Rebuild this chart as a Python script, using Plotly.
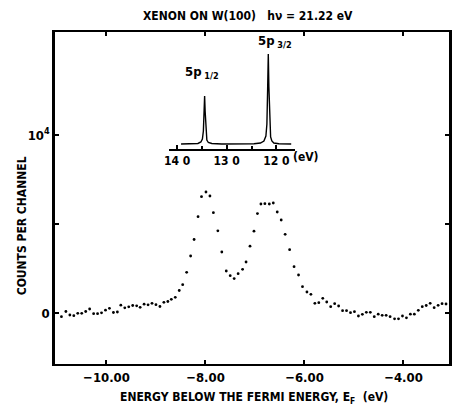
import plotly.graph_objects as go

# Main spectrum: energy below E_F (eV) and counts per channel
energy = [-10.91, -10.82, -10.74, -10.66, -10.58, -10.50, -10.42, -10.34, -10.26, -10.18,
          -10.10, -10.02, -9.94, -9.86, -9.78, -9.71, -9.63, -9.55, -9.47, -9.39,
          -9.32, -9.24, -9.16, -9.08, -9.00, -8.92, -8.84, -8.76, -8.69, -8.61,
          -8.53, -8.46, -8.38, -8.30, -8.23, -8.15, -8.08, -7.99, -7.91, -7.84,
          -7.75, -7.67, -7.58, -7.50, -7.42, -7.34, -7.25, -7.18, -7.10, -7.02,
          -6.95, -6.88, -6.80, -6.71, -6.63, -6.55, -6.47, -6.39, -6.30, -6.21,
          -6.12, -6.04, -5.95, -5.87, -5.79, -5.71, -5.63, -5.55, -5.47, -5.39,
          -5.31, -5.23, -5.15, -5.07, -4.99, -4.91, -4.83, -4.75, -4.67, -4.59,
          -4.51, -4.43, -4.35, -4.27, -4.18, -4.10, -4.02, -3.94, -3.86, -3.78,
          -3.70, -3.62, -3.54, -3.46, -3.38, -3.30, -3.22, -3.14]
counts = [-208, 84, -112, -152, -17, -17, 84, 225, -39, -39,
          11, 157, 264, 28, 56, 438, 292, 348, 421, 404,
          320, 494, 461, 545, 466, 365, 601, 646, 770, 882,
          1264, 1590, 2287, 3202, 4129, 5410, 6534, 6798, 6573, 5635,
          4618, 3427, 2360, 2096, 1933, 2208, 2455, 2865, 3753, 4596,
          5584, 6124, 6140, 6124, 6180, 5674, 5225, 4421, 3556, 2601,
          2135, 1478, 1180, 1051, 545, 579, 826, 618, 354, 522,
          393, 129, 129, 17, 73, -169, -73, 39, 39, -208,
          -67, -129, -129, -208, -326, -326, -169, -270, -67, -67,
          152, 354, 421, 545, 298, 433, 522, 506]

# Inset (gas-phase reference spectrum): binding energy (eV) and relative intensity
inset_energy = [13.92, 13.70, 13.58, 13.52, 13.49, 13.47, 13.455, 13.445, 13.435, 13.42,
                13.40, 13.37, 13.30, 13.10, 12.80, 12.45, 12.32, 12.25, 12.21, 12.19,
                12.175, 12.162, 12.15, 12.135, 12.115, 12.09, 12.05, 11.95, 11.70]
inset_intensity = [5, 5, 5.5, 7, 10, 18, 35, 53, 38, 18,
                   9, 6.5, 5.5, 5, 5, 5.2, 6, 8, 13, 25,
                   60, 95, 62, 25, 12, 8, 6, 5.2, 5]

x_ticks = [-10, -8, -6, -4]
x_ticktext = ["\u221210.00", "\u22128.00", "\u22126.00", "\u22124.00"]
y_ticks = [0, 5000, 10000]
y_ticktext = ["0", "", "10<sup>4</sup>"]
inset_ticks = [14, 13, 12]
inset_ticktext = ["14 0", "13 0", "12 0"]

FONT = "Liberation Sans Narrow, DejaVu Sans Condensed, Liberation Sans, Arial, sans-serif"
BOLD = dict(family=FONT, size=12, color="black", weight="bold")

fig = go.Figure()
fig.add_trace(go.Scatter(x=energy, y=counts, mode="markers",
                         marker=dict(size=2.8, color="black"),
                         showlegend=False, hoverinfo="skip"))
fig.add_trace(go.Scatter(x=inset_energy, y=inset_intensity, mode="lines",
                         line=dict(color="black", width=1.4),
                         xaxis="x2", yaxis="y2", showlegend=False, hoverinfo="skip"))

fig.update_layout(
    width=454, height=408,
    margin=dict(l=55, r=2, t=32, b=44),
    paper_bgcolor="white", plot_bgcolor="white",
    font=BOLD,
    xaxis=dict(range=[-11.04, -3.08], tickvals=x_ticks, ticktext=x_ticktext,
               ticks="inside", ticklen=4, tickwidth=2, tickcolor="black",
               showline=True, linewidth=2, linecolor="black", mirror="ticks",
               showgrid=False, zeroline=False, tickfont=dict(family=FONT, size=13, weight="bold")),
    yaxis=dict(range=[-2865, 15787], tickvals=y_ticks, ticktext=y_ticktext,
               ticks="inside", ticklen=4, tickwidth=2, tickcolor="black",
               showline=True, linewidth=2.5, linecolor="black", mirror="ticks",
               showgrid=False, zeroline=False, tickfont=dict(family=FONT, size=13, weight="bold")),
    xaxis2=dict(domain=[0.2897, 0.6096], anchor="y2", range=[14.16, 11.62],
                tickvals=inset_ticks, ticktext=inset_ticktext,
                ticks="inside", ticklen=4, tickwidth=1.5, tickcolor="black",
                minor=dict(tickvals=[13.5, 12.5], ticks="inside", ticklen=3, tickwidth=1.5, tickcolor="black"),
                showline=True, linewidth=1.5, linecolor="black",
                showgrid=False, zeroline=False,
                tickfont=dict(family=FONT, size=12, weight="bold")),
    yaxis2=dict(domain=[0.6476, 0.9458], anchor="x2", range=[0, 99], visible=False),
)

annotations = [
    dict(text="XENON ON W(100) &nbsp; h\u03bd = 21.22 eV", x=0.491, y=1.048,
         xref="paper", yref="paper", showarrow=False, xanchor="center", yanchor="middle",
         font=dict(family=FONT, size=12, weight="bold")),
    dict(text="ENERGY BELOW THE FERMI ENERGY, E<sub>F</sub> &nbsp;(eV)", x=0.506, y=-0.1024,
         xref="paper", yref="paper", showarrow=False, xanchor="center", yanchor="middle",
         font=dict(family=FONT, size=12, weight="bold")),
    dict(text="COUNTS PER CHANNEL", x=-0.083, y=0.4157, textangle=-90,
         xref="paper", yref="paper", showarrow=False, xanchor="center", yanchor="middle",
         font=dict(family=FONT, size=12, weight="bold")),
    dict(text="(eV)", x=0.637, y=0.6235,
         xref="paper", yref="paper", showarrow=False, xanchor="center", yanchor="middle",
         font=dict(family=FONT, size=12, weight="bold")),
    dict(text="5p<sub> 1/2</sub>", x=13.5, y=66, xref="x2", yref="y2",
         showarrow=False, xanchor="center", yanchor="bottom",
         font=dict(family=FONT, size=13, weight="bold")),
    dict(text="5p<sub> 3/2</sub>", x=12.02, y=97, xref="x2", yref="y2",
         showarrow=False, xanchor="center", yanchor="bottom",
         font=dict(family=FONT, size=13, weight="bold")),
]
fig.update_layout(annotations=annotations)

fig.write_html("out.html", config={"displayModeBar": False},
               post_script="document.body.style.margin='0';document.body.style.overflow='hidden';")
